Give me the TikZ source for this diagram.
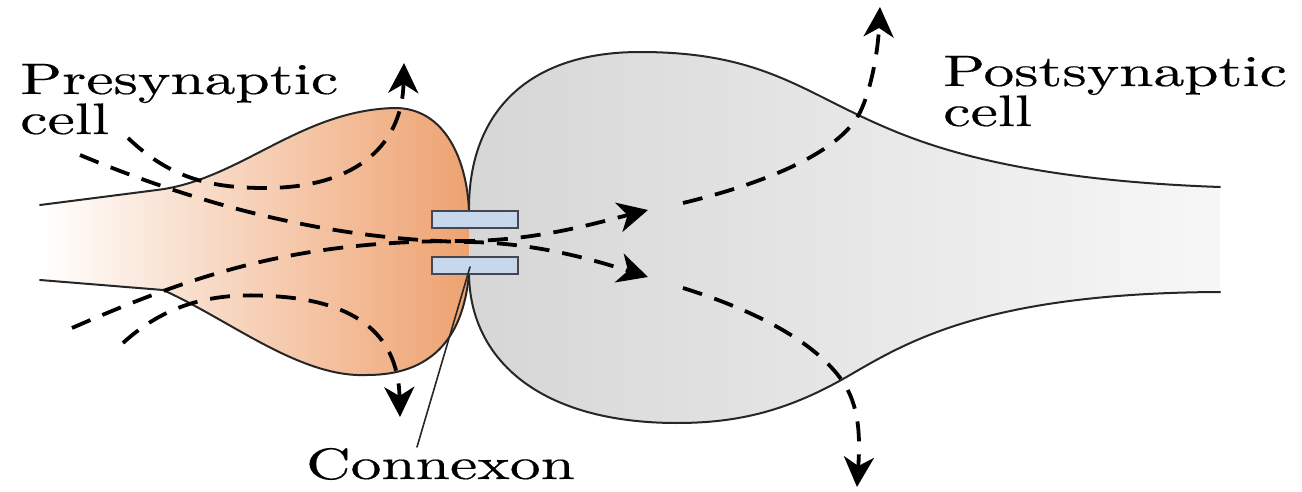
\documentclass[tikz,border=0pt]{standalone}
\usepackage{fontspec}
\newfontfamily\labelfont[FakeBold=0.35]{lmroman10-regular.otf}
\usetikzlibrary{arrows.meta,calc}
\definecolor{preorange}{RGB}{238,162,112}
\definecolor{postgray}{RGB}{214,214,214}
\definecolor{postlight}{RGB}{247,247,247}
\definecolor{connexfill}{RGB}{200,216,236}
\definecolor{connexedge}{RGB}{70,70,80}
\begin{document}
\begin{tikzpicture}[x=1pt,y=-1pt,
  membrane/.style={line width=2pt, draw=black!85, line cap=round},
  flux/.style={line width=3.8pt, dash pattern=on 20pt off 13pt,
    -{Stealth[length=30pt,width=30pt,inset=9pt]}},
  channel/.style={fill=connexfill, draw=connexedge, line width=1.5pt},
  label/.style={inner sep=0pt, anchor=base west, font=\labelfont\fontsize{44}{44}\selectfont},
]
\useasboundingbox (0,0) rectangle (1302,492);

% presynaptic terminal, shaded towards the junction
\path[left color=white, right color=preorange]
  (40,205) -- (157,190) .. controls (240,180) and (300,110) .. (395,108)
  .. controls (445,108) and (467,160) .. (469,211) -- (469,274)
  .. controls (463,340) and (430,375) .. (367,375)
  .. controls (300,378) and (230,320) .. (163,290) -- (40,280) -- cycle;

% postsynaptic cell, grey fading to the right
\path[left color=postgray, right color=postlight]
  (1220,187) .. controls (1020,180) and (930,147) .. (880,125)
  .. controls (800,90) and (760,52) .. (640,52)
  .. controls (520,52) and (468,120) .. (469,211) -- (469,274)
  .. controls (470,360) and (540,423) .. (677,423)
  .. controls (740,423) and (790,410) .. (850,375)
  .. controls (910,340) and (990,293) .. (1220,292) -- cycle;

% membranes
\draw[membrane] (40,205) -- (157,190) .. controls (240,180) and (300,110) .. (395,108)
  .. controls (445,108) and (467,160) .. (469,211);
\draw[membrane] (469,274) .. controls (463,340) and (430,375) .. (367,375)
  .. controls (300,378) and (230,320) .. (163,290) -- (40,280);
\draw[membrane] (1220,187) .. controls (1020,180) and (930,147) .. (880,125)
  .. controls (800,90) and (760,52) .. (640,52)
  .. controls (520,52) and (468,120) .. (469,211);
\draw[membrane] (469,274) .. controls (470,360) and (540,423) .. (677,423)
  .. controls (740,423) and (790,410) .. (850,375)
  .. controls (910,340) and (990,293) .. (1220,292);

% current paths
\coordinate (a0) at (128,138);
\coordinate (a1) at (404,63);
\coordinate (b0) at (80,155);
\coordinate (bm) at (648,277);
\coordinate (b1) at (683,288);
\coordinate (b2) at (857,487);
\coordinate (c0) at (72,328);
\coordinate (cm) at (648,210);
\coordinate (c1) at (683,203);
\coordinate (c2) at (880,7);
\coordinate (d0) at (123,343);
\coordinate (d1) at (400,417);

\draw[flux] (a0) .. controls (170,178) and (210,188) .. (265,188)
  .. controls (350,188) and (402,150) .. (a1);
\draw[flux] (b0) .. controls (200,205) and (330,240) .. (469,242)
  .. controls (540,243) and (600,262) .. (bm);
\draw[flux] (b1) .. controls (760,312) and (820,345) .. (845,385)
  .. controls (860,410) and (860,440) .. (b2);
\draw[flux] (c0) .. controls (200,272) and (300,240) .. (469,241)
  .. controls (540,240) and (600,222) .. (cm);
\draw[flux] (c1) .. controls (770,182) and (845,150) .. (862,108)
  .. controls (872,85) and (878,50) .. (c2);
\draw[flux] (d0) .. controls (170,300) and (220,293) .. (270,296)
  .. controls (350,300) and (398,330) .. (d1);

% connexon halves
\node[channel, minimum width=86pt, minimum height=17pt, inner sep=0pt] (cxtop) at (475,219.5) {};
\node[channel, minimum width=86pt, minimum height=17pt, inner sep=0pt] (cxbot) at (475,265.5) {};

% labels
\node[label] (pre1) at (20,94) {\scalebox{1.40}[1]{Presynaptic}};
\node[label] (pre2) at (20,134) {\scalebox{1.40}[1]{cell}};
\node[label] (post1) at (943,86) {\scalebox{1.40}[1]{Postsynaptic}};
\node[label] (post2) at (943,126) {\scalebox{1.40}[1]{cell}};
\node[label] (cxlabel) at (306,479) {\scalebox{1.40}[1]{Connexon}};

\coordinate (cxfoot) at (417,447);
\coordinate (cxtip) at ($(cxbot.center)+(-5,1.5)$);
\draw[membrane, line width=1.6pt] (cxfoot) -- (cxtip);
\end{tikzpicture}
\end{document}
